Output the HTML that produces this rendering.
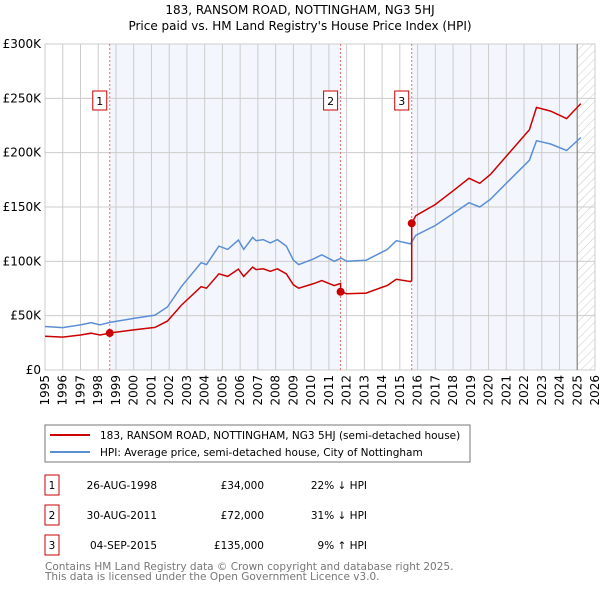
<!DOCTYPE html>
<html><head><meta charset="utf-8"><style>
body{margin:0;background:#fff;font-family:"DejaVu Sans","Liberation Sans",sans-serif;}
svg text{font-family:"DejaVu Sans","Liberation Sans",sans-serif;}
</style></head><body>
<svg id="c" width="600" height="590" xmlns="http://www.w3.org/2000/svg">
<defs><pattern id="hatch" width="6" height="6" patternUnits="userSpaceOnUse" patternTransform="rotate(45)"><line x1="0" y1="0" x2="0" y2="6" stroke="#bbb" stroke-width="0.8"/></pattern></defs>
<text x="300" y="14" text-anchor="middle" font-size="12">183, RANSOM ROAD, NOTTINGHAM, NG3 5HJ</text>
<text x="300" y="30" text-anchor="middle" font-size="12">Price paid vs. HM Land Registry's House Price Index (HPI)</text>
<g id="plot"></g>
<rect x="45" y="425" width="425" height="37" fill="#fff" stroke="#777"/>
<line x1="50" y1="435" x2="90" y2="435" stroke="#cc0000" stroke-width="2"/>
<text x="100" y="439" font-size="10.5">183, RANSOM ROAD, NOTTINGHAM, NG3 5HJ (semi-detached house)</text>
<line x1="50" y1="452" x2="90" y2="452" stroke="#5b8fd4" stroke-width="2"/>
<text x="100" y="456" font-size="10.5">HPI: Average price, semi-detached house, City of Nottingham</text>
<g id="table" font-size="10.5"></g>
<text x="45" y="570" font-size="10.5" fill="#777">Contains HM Land Registry data © Crown copyright and database right 2025.</text>
<text x="45" y="580" font-size="10.5" fill="#777">This data is licensed under the Open Government Licence v3.0.</text>
</svg>
<script>
const hpiYears=[1995,1996,1997,1997.6,1998.1,1998.7,2000,2001.2,2001.9,2002.7,2003.8,2004.1,2004.8,2005.3,2005.9,2006.2,2006.7,2006.9,2007.3,2007.7,2008.1,2008.6,2009.0,2009.3,2010.1,2010.6,2011.3,2011.7,2012.0,2013.1,2014.3,2014.8,2015.6,2015.9,2017.0,2018.0,2018.9,2019.5,2020.1,2021.2,2022.3,2022.7,2023.5,2024.4,2025.2];
const hpiValues=[40,39,41.5,43.6,41.5,44,47.5,50.5,58,77,98.7,97,114,111,119.6,111,122,119,120,117,120,114,101,97,102,106,100,103,100,101,111,119,116,124,133,144,154,150,157,175,193,211,208,202,214];
const saleYears=[1998.65,2011.66,2015.67];
const salePrices=[34000,72000,135000];
const saleLabels=["1","2","3"];
const saleDates=["26-AUG-1998","30-AUG-2011","04-SEP-2015"];
const salePriceText=["£34,000","£72,000","£135,000"];
const saleHpiText=["22% ↓ HPI","31% ↓ HPI","9% ↑ HPI"];
const yTicks=[0,50,100,150,200,250,300];
const yTickLabels=["£0","£50K","£100K","£150K","£200K","£250K","£300K"];
const NS="http://www.w3.org/2000/svg";
const X0=45,X1=595,Y0=370,Y1=44;
const xs=y=>X0+(y-1995)/31*(X1-X0);
const ys=v=>Y0-v/300*(Y0-Y1);
function mk(p,t,a){const e=document.createElementNS(NS,t);for(const k in a)e.setAttribute(k,a[k]);p.appendChild(e);return e;}
const g=document.getElementById('plot');
function hpiAt(t){for(let i=1;i<hpiYears.length;i++){if(t<=hpiYears[i]){const f=(t-hpiYears[i-1])/(hpiYears[i]-hpiYears[i-1]);return hpiValues[i-1]+f*(hpiValues[i]-hpiValues[i-1]);}}return hpiValues[hpiValues.length-1];}
let r=mk(g,'rect',{x:xs(saleYears[0]),y:Y1,width:xs(saleYears[1])-xs(saleYears[0]),height:Y0-Y1,fill:'#f3f6fd'});

r=mk(g,'rect',{x:xs(saleYears[2]),y:Y1,width:xs(2025)-xs(saleYears[2]),height:Y0-Y1,fill:'#f3f6fd'});

r=mk(g,'rect',{x:xs(2025),y:Y1,width:X1-xs(2025),height:Y0-Y1,fill:'url(#hatch)'});

for(let yr=1995;yr<=2026;yr++){const x=xs(yr);
 let l=mk(g,'line',{x1:x,x2:x,y1:Y1,y2:Y0,stroke:'#ccc'});
 let t=mk(g,'text',{x:0,y:0,'font-size':12,'text-anchor':'end',transform:`translate(${x+4},${Y0+5}) rotate(-90)`});t.textContent=yr;
 }
yTicks.forEach((v,i)=>{const y=ys(v);
 let l=mk(g,'line',{x1:X0,x2:X1,y1:y,y2:y,stroke:'#ccc'});
 let t=mk(g,'text',{x:X0-4,y:y+4,'font-size':12,'text-anchor':'end'});t.textContent=yTickLabels[i];
 });
r=mk(g,'rect',{x:X0,y:Y1,width:X1-X0,height:Y0-Y1,fill:'none',stroke:'#ccc'});

let nl=mk(g,'line',{x1:xs(2025),x2:xs(2025),y1:Y1,y2:Y0,stroke:'#999','stroke-width':1.5});

saleYears.forEach((s,i)=>{const x=xs(s);
 let l=mk(g,'line',{x1:x,x2:x,y1:Y1,y2:Y0,stroke:'#e87070','stroke-dasharray':'2,2'});
 let b=mk(g,'rect',{x:x-17,y:91,width:14,height:19,fill:'#fff',stroke:'#cc0000'});
 let t=mk(g,'text',{x:x-10,y:105,'font-size':11,'text-anchor':'middle'});t.textContent=saleLabels[i];});
let d=hpiYears.map((y,i)=>(i?'L':'M')+xs(y).toFixed(1)+','+ys(hpiValues[i]).toFixed(1)).join('');
let p=mk(g,'path',{d:d,fill:'none',stroke:'#5b8fd4','stroke-width':1.5});
const ts=[...new Set([...hpiYears,...saleYears])].sort((a,b)=>a-b);
let pts=[];
ts.forEach(t=>{let k=0;for(let i=0;i<saleYears.length;i++)if(t>=saleYears[i])k=i;
 if(saleYears.includes(t)&&saleYears.indexOf(t)>0){const j=saleYears.indexOf(t)-1;pts.push([t,salePrices[j]/1000*hpiAt(t)/hpiAt(saleYears[j])]);}
 pts.push([t,salePrices[k]/1000*hpiAt(t)/hpiAt(saleYears[k])]);});
d=pts.map((q,i)=>(i?'L':'M')+xs(q[0]).toFixed(1)+','+ys(q[1]).toFixed(1)).join('');
p=mk(g,'path',{d:d,fill:'none',stroke:'#cc0000','stroke-width':1.5});
saleYears.forEach((s,i)=>{let c=mk(g,'circle',{cx:xs(s),cy:ys(salePrices[i]/1000),r:4,fill:'#cc0000'});});
const tb=document.getElementById('table');
saleLabels.forEach((lab,i)=>{const y=483+i*30;
 let b=mk(tb,'rect',{x:45,y:y-8,width:14,height:20,fill:'#fff',stroke:'#cc0000'});
 let t=mk(tb,'text',{x:52,y:y+6,'text-anchor':'middle'});t.textContent=lab;
 t=mk(tb,'text',{x:157,y:y+6,'text-anchor':'end'});t.textContent=saleDates[i];
 t=mk(tb,'text',{x:264,y:y+6,'text-anchor':'end'});t.textContent=salePriceText[i];
 t=mk(tb,'text',{x:367,y:y+6,'text-anchor':'end'});t.textContent=saleHpiText[i];});
</script>
</body></html>
